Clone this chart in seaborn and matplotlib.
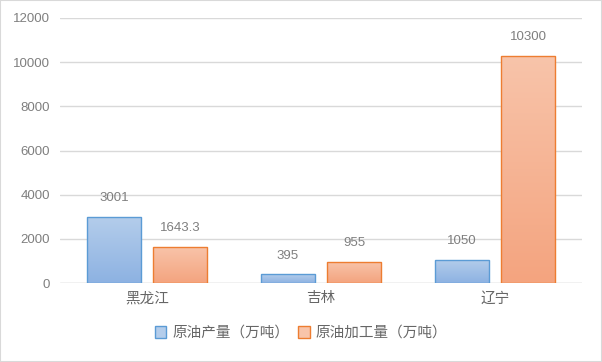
import numpy as np
import pandas as pd
import matplotlib
matplotlib.use("Agg")
import matplotlib.pyplot as plt
from matplotlib.colors import LinearSegmentedColormap
from matplotlib.patches import Rectangle, Patch
import seaborn as sns

provinces = ["黑龙江", "吉林", "辽宁"]
series = ["原油产量（万吨）", "原油加工量（万吨）"]
output = [3001, 395, 1050]
processing = [1643.3, 955, 10300]
value_labels = {series[0]: ["3001", "395", "1050"], series[1]: ["1643.3", "955", "10300"]}

df = pd.DataFrame({
    "省份": provinces * 2,
    "系列": [series[0]] * 3 + [series[1]] * 3,
    "数值": output + processing,
})

sns.set_style("white")
plt.rcParams['font.family'] = ['Noto Sans CJK SC', 'DejaVu Sans']

edge = {series[0]: "#5b9bd5", series[1]: "#ed7d31"}
grad = {series[0]: ("#b4cdeb", "#8db2e2"), series[1]: ("#f8c4aa", "#f4a47f")}
text_grey = "#7f7f7f"
num_font = ['Liberation Sans', 'DejaVu Sans']

fig = plt.figure(figsize=(6.02, 3.62), dpi=100)
ax = fig.add_axes([60 / 602, 1 - 283 / 362, 522 / 602, 265 / 362])

sns.barplot(data=df, x="省份", y="数值", hue="系列", order=provinces,
            hue_order=series, width=0.764, gap=0.18, palette=edge, ax=ax, legend=False)

ax.set_yticks(range(0, 12001, 2000))
ax.yaxis.grid(True, color="#d9d9d9", linewidth=1)
ax.set_axisbelow(True)
for s in ax.spines.values():
    s.set_visible(False)
ax.axhline(0, color="#d9d9d9", linewidth=1, zorder=1)
ax.set_xlabel("")
ax.set_ylabel("")
ax.tick_params(axis="y", colors=text_grey, length=0, pad=7)
ax.tick_params(axis="x", colors="#666666", labelsize=10.5, length=0, pad=6)
for t in ax.get_yticklabels():
    t.set_family(num_font)
    t.set_fontsize(9.5)

# gradient fills, clipped to each bar
for container, name in zip(ax.containers, series):
    top, bottom = grad[name]
    cmap = LinearSegmentedColormap.from_list(name, [bottom, top])
    for bar, lab in zip(container.patches, value_labels[name]):
        x0, y0 = bar.get_x(), bar.get_y()
        w, h = bar.get_width(), bar.get_height()
        bar.set_facecolor("none")
        bar.set_edgecolor(edge[name])
        bar.set_linewidth(1.0)
        bar.set_zorder(3)
        im = ax.imshow(np.linspace(0, 1, 100).reshape(-1, 1), cmap=cmap, origin="lower",
                       extent=[x0, x0 + w, y0, y0 + h], aspect="auto", zorder=2)
        im.set_clip_path(bar)
        ax.annotate(lab, (x0 + w / 2, y0 + h), xytext=(0, 9), textcoords="offset points",
                    ha="center", va="bottom", color=text_grey, fontsize=9.5, family=num_font)
ax.set_xlim(-0.5, 2.5)
ax.set_ylim(0, 12000)

handles = [Patch(facecolor=grad[n][0], edgecolor=edge[n], label=n) for n in series]
fig.legend(handles=handles, loc="center", bbox_to_anchor=(0.5, 1 - 333 / 362), ncol=2,
           frameon=False, fontsize=10.5, labelcolor="#666666", handlelength=0.8,
           handleheight=0.8, handletextpad=0.4, columnspacing=0.6)

fig.patches.append(Rectangle((0, 0), 1, 1, transform=fig.transFigure, fill=False,
                             edgecolor="#d9d9d9", linewidth=1.5))
fig.savefig("out.png", dpi=100)
